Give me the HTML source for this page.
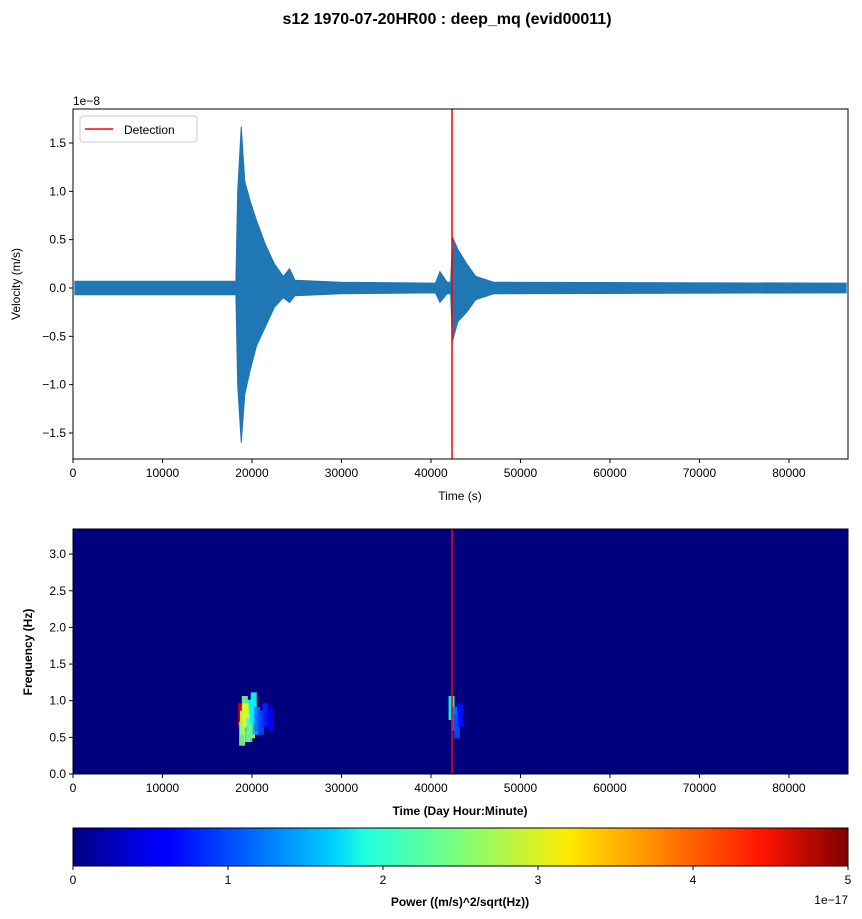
<!DOCTYPE html>
<html><head><meta charset="utf-8"><style>
body{margin:0;background:#fff;}
svg{display:block;font-family:"Liberation Sans","DejaVu Sans",sans-serif;}
</style></head><body>
<svg id="c" width="862" height="919" viewBox="0 0 862 919" xmlns="http://www.w3.org/2000/svg">
<defs>
<linearGradient id="jet" x1="0" x2="1" y1="0" y2="0">
<stop offset="0" stop-color="#00007f"/><stop offset="0.11" stop-color="#0000ff"/><stop offset="0.125" stop-color="#0000ff"/>
<stop offset="0.34" stop-color="#00d4ff"/><stop offset="0.375" stop-color="#1fffe0"/><stop offset="0.5" stop-color="#7dff7a"/>
<stop offset="0.64" stop-color="#ffeb00"/><stop offset="0.66" stop-color="#ffd800"/><stop offset="0.89" stop-color="#ff1300"/><stop offset="1" stop-color="#7f0000"/>
</linearGradient>
<clipPath id="clipTop"><rect x="73" y="109" width="775" height="350"/></clipPath>
<clipPath id="clipSpec"><rect x="73" y="529" width="775" height="245"/></clipPath>
</defs>
<text x="447" y="24" text-anchor="middle" font-size="16" font-weight="bold">s12 1970-07-20HR00 : deep_mq (evid00011)</text>
<g id="topplot"></g>
<g id="spec"></g>
<g id="cbar"></g>
</svg>
<script>
const envTimes=[200,18200,18400,18800,19200,19800,20500,21500,22500,23500,24200,24800,30000,40500,41000,41800,42200,42400,43000,44000,45000,47000,86400];
const envUpper=[0.07,0.07,1.0,1.67,1.1,0.9,0.7,0.45,0.25,0.12,0.2,0.08,0.06,0.05,0.17,0.06,0.06,0.53,0.4,0.25,0.12,0.06,0.05];
const envLower=[-0.07,-0.07,-1.0,-1.6,-1.1,-0.85,-0.6,-0.4,-0.2,-0.1,-0.15,-0.08,-0.06,-0.05,-0.15,-0.06,-0.06,-0.55,-0.35,-0.25,-0.12,-0.06,-0.05];
const detectionTime=42350;
const xTicks=[0,10000,20000,30000,40000,50000,60000,70000,80000];
const yTicks=[-1.5,-1.0,-0.5,0.0,0.5,1.0,1.5];
const freqTicks=[0.0,0.5,1.0,1.5,2.0,2.5,3.0];
const cbarTicks=[0,1,2,3,4,5];
const specTimes=[18800,19000,19200,19400,19600,19800,20000,20200,20400,18900,19300,19700,20100,20600,21000,21500,22000,42300,42600,42900,43300];
const specFreqs=[0.8,0.7,0.9,0.6,0.75,0.85,0.65,0.95,0.7,0.55,0.8,0.6,0.85,0.75,0.7,0.8,0.75,0.9,0.75,0.65,0.8];
const specPower=[4.5,3,2.5,3.5,4,2,3,2,1.5,2.5,3,2.2,1.8,1.2,1,0.8,0.6,2,1.2,1,0.7];
const NS='http://www.w3.org/2000/svg';
const L=73,R=848;
const xs=t=>L+(t/86600)*(R-L);
const yTop=v=>288-v*96.67;
const yF=f=>774-f*73.3;
function mk(tag,attrs,parent,text){const e=document.createElementNS(NS,tag);for(const k in attrs)e.setAttribute(k,attrs[k]);if(text!==undefined)e.textContent=text;parent.appendChild(e);return e;}
function jet(v){const s=Math.max(0,Math.min(1,v));const r=Math.max(0,Math.min(1,1.5-Math.abs(4*s-3))),g=Math.max(0,Math.min(1,1.5-Math.abs(4*s-2))),b=Math.max(0,Math.min(1,1.5-Math.abs(4*s-1)));return `rgb(${Math.round(r*255)},${Math.round(g*255)},${Math.round(b*255)})`;}
// top plot
const tp=document.getElementById('topplot');
let pts=envTimes.map((t,i)=>xs(t)+','+yTop(envUpper[i]));
for(let i=envTimes.length-1;i>=0;i--)pts.push(xs(envTimes[i])+','+yTop(envLower[i]));
const wf=mk('polygon',{points:pts.join(' '),fill:'#1f77b4',stroke:'#1f77b4','stroke-width':1,'clip-path':'url(#clipTop)'},tp);


const det=mk('line',{x1:xs(detectionTime),x2:xs(detectionTime),y1:109,y2:459,stroke:'#ff0000','stroke-width':1.5},tp);


mk('rect',{x:L,y:109,width:R-L,height:350,fill:'none',stroke:'#000','stroke-width':1},tp);
xTicks.forEach(t=>{mk('line',{x1:xs(t),x2:xs(t),y1:459,y2:463,stroke:'#000'},tp);const tl=mk('text',{x:xs(t),y:477,'text-anchor':'middle','font-size':12},tp,String(t));});
yTicks.forEach(v=>{mk('line',{x1:L-4,x2:L,y1:yTop(v),y2:yTop(v),stroke:'#000'},tp);const tl=mk('text',{x:L-7,y:yTop(v)+4,'text-anchor':'end','font-size':12},tp,(v<0?'\u2212':'')+Math.abs(v).toFixed(1));});
mk('text',{x:73,y:105,'font-size':12},tp,'1e\u22128');
const xt=mk('text',{x:460,y:500,'text-anchor':'middle','font-size':12},tp,'Time (s)');

const yt=mk('text',{x:20,y:284,'text-anchor':'middle','font-size':12,transform:'rotate(-90 20 284)'},tp,'Velocity (m/s)');

const lg=mk('g',{},tp);


mk('rect',{x:80,y:116,width:117,height:26,rx:3,fill:'#fff',stroke:'#ccc'},lg);
mk('line',{x1:85,x2:113,y1:129,y2:129,stroke:'#ff0000','stroke-width':1.5},lg);
mk('text',{x:124,y:134,'font-size':12},lg,'Detection');
// spectrogram
const sp=document.getElementById('spec');
mk('rect',{x:L,y:529,width:R-L,height:245,fill:'#00007f'},sp);
const cg=mk('g',{'clip-path':'url(#clipSpec)'},sp);
specTimes.forEach((t,i)=>{const c=mk('rect',{x:xs(t)-3,y:yF(specFreqs[i])-12,width:6,height:24,fill:jet(specPower[i]/5),opacity:0.9},cg);});
const det2=mk('line',{x1:xs(detectionTime),x2:xs(detectionTime),y1:529,y2:774,stroke:'#ff0000','stroke-width':1.5},sp);


mk('rect',{x:L,y:529,width:R-L,height:245,fill:'none',stroke:'#000'},sp);
xTicks.forEach(t=>{mk('line',{x1:xs(t),x2:xs(t),y1:774,y2:778,stroke:'#000'},sp);mk('text',{x:xs(t),y:792,'text-anchor':'middle','font-size':12},sp,String(t));});
freqTicks.forEach(f=>{mk('line',{x1:L-4,x2:L,y1:yF(f),y2:yF(f),stroke:'#000'},sp);mk('text',{x:L-7,y:yF(f)+4,'text-anchor':'end','font-size':12},sp,f.toFixed(1));});
const sxt=mk('text',{x:460,y:815,'text-anchor':'middle','font-size':12,'font-weight':'bold'},sp,'Time (Day Hour:Minute)');

const syt=mk('text',{x:32,y:652,'text-anchor':'middle','font-size':12,'font-weight':'bold',transform:'rotate(-90 32 652)'},sp,'Frequency (Hz)');

// colorbar
const cb=document.getElementById('cbar');
mk('rect',{x:L,y:828,width:R-L,height:38,fill:'url(#jet)',stroke:'#000'},cb);
cbarTicks.forEach(v=>{const x=L+v/5*(R-L);mk('line',{x1:x,x2:x,y1:866,y2:870,stroke:'#000'},cb);mk('text',{x:x,y:884,'text-anchor':'middle','font-size':12},cb,String(v));});
const cbl=mk('text',{x:460,y:906,'text-anchor':'middle','font-size':12,'font-weight':'bold'},cb,'Power ((m/s)^2/sqrt(Hz))');

mk('text',{x:848,y:904,'text-anchor':'end','font-size':12},cb,'1e\u221217');
</script>
</body></html>
